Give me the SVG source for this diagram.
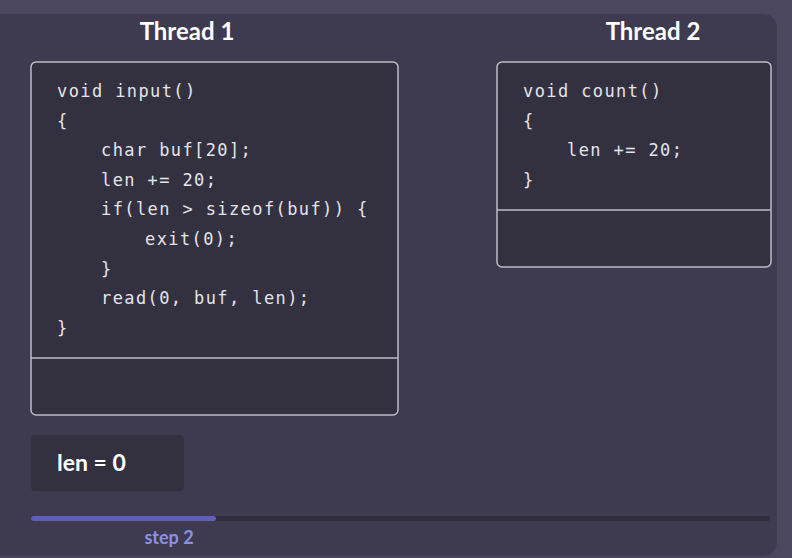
<svg xmlns="http://www.w3.org/2000/svg" width="792" height="558" viewBox="0 0 792 558">
  <style>
    .code { font-family: "DejaVu Sans Mono", "Liberation Mono", monospace; font-size: 17px; letter-spacing: 1.4px; fill: #e4e4ec; }
    .title { font-family: Lato, "Noto Sans", sans-serif; font-weight: bold; font-size: 24px; fill: #ffffff; }
    .box { fill: #33313f; stroke: #bcbcc8; stroke-width: 1.5; }
    .div { stroke: #bcbcc8; stroke-width: 1.5; }
  </style>
  <rect x="0" y="0" width="792" height="558" fill="#4a475e"/>
  <rect x="-20" y="14" width="797" height="542" rx="14" fill="#3e3b51"/>

  <g id="thread1">
    <text class="title" x="187" y="40" text-anchor="middle">Thread 1</text>
    <rect class="box" x="31" y="62" width="367" height="353" rx="5"/>
    <line class="div" x1="31" y1="358" x2="398" y2="358"/>
    <text class="code" x="57" y="97">void input()</text>
    <text class="code" x="57" y="126.6">{</text>
    <text class="code" x="101" y="156.2">char buf[20];</text>
    <text class="code" x="101" y="185.8">len += 20;</text>
    <text class="code" x="101" y="215.4">if(len &gt; sizeof(buf)) {</text>
    <text class="code" x="145" y="245">exit(0);</text>
    <text class="code" x="101" y="274.6">}</text>
    <text class="code" x="101" y="304.2">read(0, buf, len);</text>
    <text class="code" x="57" y="333.8">}</text>
  </g>

  <g id="thread2">
    <text class="title" x="653" y="40" text-anchor="middle">Thread 2</text>
    <rect class="box" x="497" y="62" width="274" height="205" rx="5"/>
    <line class="div" x1="497" y1="210" x2="771" y2="210"/>
    <text class="code" x="523" y="97">void count()</text>
    <text class="code" x="523" y="126.6">{</text>
    <text class="code" x="567" y="156.2">len += 20;</text>
    <text class="code" x="523" y="185.8">}</text>
  </g>

  <g id="len">
    <rect x="31" y="435" width="153" height="56" rx="4" fill="#33313f"/>
    <text x="57" y="471" font-family="Lato, 'Noto Sans', sans-serif" font-weight="bold" font-size="23" fill="#ffffff">len = 0</text>
  </g>

  <g id="progress">
    <rect x="31" y="516" width="739" height="5" rx="2.5" fill="#302e3e"/>
    <rect x="31" y="516" width="185" height="5" rx="2.5" fill="#5f5fb8"/>
    <text x="169" y="544" text-anchor="middle" font-family="Lato, 'Noto Sans', sans-serif" font-weight="bold" font-size="18" fill="#8f8fe0">step 2</text>
  </g>

  <g id="connectors"></g>
</svg>
